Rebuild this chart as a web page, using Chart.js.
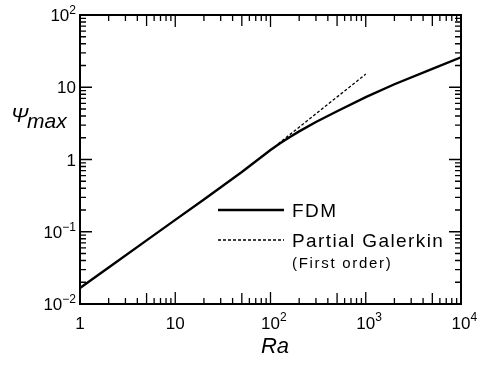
<!DOCTYPE html>
<html>
<head>
<meta charset="utf-8">
<script src="https://cdn.jsdelivr.net/npm/chart.js@4/dist/chart.umd.min.js"></script>
<style>
  body { margin: 0; background: #fff; }
  canvas { display: block; }
</style>
</head>
<body>
<canvas id="chart" width="492" height="366"></canvas>
<script>
// stream function maximum vs Rayleigh number
const raFdm = [1, 2, 5, 10, 20, 50, 100, 125, 160, 200, 300, 500, 1000, 2000, 5000, 10000];
const psiFdm = [0.0167, 0.032, 0.076, 0.146, 0.28, 0.67, 1.35, 1.67, 2.05, 2.45, 3.3, 4.65, 7.3, 11.0, 18.0, 26.0];

const raGalerkin = [120, 1000];
const psiGalerkin = [1.64, 15.2];

const xTickValues = [1, 10, 100, 1000, 10000];
const xTickBase = ['1', '10', '10', '10', '10'];
const xTickSup = ['', '', '2', '3', '4'];

const yTickValues = [0.01, 0.1, 1, 10, 100];
const yTickBase = ['10', '10', '1', '10', '10'];
const yTickSup = ['\u22122', '\u22121', '', '', '2'];

const legendLabels = ['FDM', 'Partial Galerkin'];
const legendNote = '(First order)';

const FONT = '"Liberation Sans", Arial, Helvetica, sans-serif';

function points(xs, ys) {
  return xs.map((x, i) => ({ x: x, y: ys[i] }));
}

// decade + minor ticks pointing into the plot, on all four sides
function drawTicks(ctx, scale, area, horizontal) {
  const lo = Math.log10(scale.min), hi = Math.log10(scale.max);
  for (let d = Math.floor(lo); d < hi; d++) {
    for (let k = 1; k <= 9; k++) {
      const v = k * Math.pow(10, d);
      if (v < scale.min || v > scale.max) continue;
      const p = scale.getPixelForValue(v);
      let len = k === 1 ? 12 : 6;
      if (horizontal && k === 5) len = 11;
      ctx.beginPath();
      if (horizontal) {
        ctx.moveTo(p, area.bottom); ctx.lineTo(p, area.bottom - len);
        ctx.moveTo(p, area.top); ctx.lineTo(p, area.top + len);
      } else {
        ctx.moveTo(area.left, p); ctx.lineTo(area.left + len, p);
        ctx.moveTo(area.right, p); ctx.lineTo(area.right - len, p);
      }
      ctx.stroke();
    }
  }
}

const frame = {
  id: 'frame',
  afterDraw(chart) {
    const ctx = chart.ctx;
    const area = chart.chartArea;
    const xs = chart.scales.x, ys = chart.scales.y;
    ctx.save();
    ctx.strokeStyle = '#000';
    ctx.fillStyle = '#000';

    ctx.lineWidth = 2;
    ctx.strokeRect(area.left, area.top, area.right - area.left, area.bottom - area.top);
    ctx.lineWidth = 1.3;
    drawTicks(ctx, xs, area, true);
    drawTicks(ctx, ys, area, false);

    // x tick labels
    ctx.textBaseline = 'alphabetic';
    xTickValues.forEach((v, i) => {
      const p = xs.getPixelForValue(v);
      ctx.font = '17px ' + FONT;
      const w = ctx.measureText(xTickBase[i]).width;
      ctx.textAlign = 'left';
      ctx.fillText(xTickBase[i], p - w / 2, area.bottom + 25);
      if (xTickSup[i]) {
        ctx.font = '12px ' + FONT;
        ctx.fillText(xTickSup[i], p + w / 2, area.bottom + 17);
      }
    });

    // y tick labels
    yTickValues.forEach((v, i) => {
      const p = ys.getPixelForValue(v);
      ctx.font = '12px ' + FONT;
      const sw = yTickSup[i] ? ctx.measureText(yTickSup[i]).width : 0;
      const right = area.left - 4;
      ctx.textAlign = 'right';
      if (yTickSup[i]) ctx.fillText(yTickSup[i], right, p - 1);
      ctx.font = '17px ' + FONT;
      ctx.fillText(yTickBase[i], right - sw, p + 6);
    });

    // axis titles
    ctx.textAlign = 'left';
    ctx.font = 'italic 21px ' + FONT;
    ctx.fillText('\u03A8', 11, 122);
    ctx.fillText('max', 27, 128);
    ctx.textAlign = 'center';
    ctx.font = 'italic 22px ' + FONT;
    ctx.fillText('Ra', 275, 353);

    // legend
    const rows = [210, 240];
    chart.data.datasets.forEach((ds, i) => {
      ctx.save();
      ctx.lineWidth = ds.borderWidth;
      ctx.setLineDash(ds.borderDash || []);
      ctx.beginPath();
      ctx.moveTo(218, rows[i]);
      ctx.lineTo(284, rows[i]);
      ctx.stroke();
      ctx.restore();
      ctx.textAlign = 'left';
      ctx.font = '19px ' + FONT;
      ctx.letterSpacing = '1.4px';
      ctx.fillText(legendLabels[i], 292, rows[i] + 7);
    });
    ctx.font = '15px ' + FONT;
    ctx.letterSpacing = '1.7px';
    ctx.fillText(legendNote, 292, 268);
    ctx.restore();
  }
};

new Chart(document.getElementById('chart'), {
  type: 'scatter',
  data: {
    datasets: [
      {
        label: legendLabels[0],
        data: points(raFdm, psiFdm),
        showLine: true,
        borderColor: '#000',
        borderWidth: 2.4,
        pointRadius: 0
      },
      {
        label: legendLabels[1],
        data: points(raGalerkin, psiGalerkin),
        showLine: true,
        borderColor: '#000',
        borderWidth: 1.3,
        borderDash: [3, 2],
        pointRadius: 0
      }
    ]
  },
  options: {
    responsive: false,
    animation: false,
    layout: { padding: { top: 15, right: 31, left: 0, bottom: 0 } },
    plugins: { legend: { display: false }, tooltip: { enabled: false } },
    scales: {
      x: {
        type: 'logarithmic',
        min: 1,
        max: 10000,
        ticks: { display: false },
        grid: { display: false },
        border: { display: false },
        afterFit(scale) { scale.height = 62; }
      },
      y: {
        type: 'logarithmic',
        min: 0.01,
        max: 100,
        ticks: { display: false },
        grid: { display: false },
        border: { display: false },
        afterFit(scale) { scale.width = 80; }
      }
    }
  },
  plugins: [frame]
});
</script>
</body>
</html>
